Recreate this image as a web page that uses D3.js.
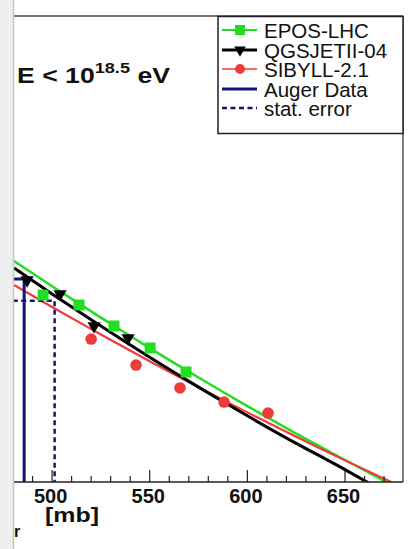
<!DOCTYPE html>
<html>
<head>
<meta charset="utf-8">
<script src="https://cdn.jsdelivr.net/npm/d3@7"></script>
<style>
  html, body { margin: 0; padding: 0; background: #fff; }
  svg { display: block; }
  text { font-family: "Liberation Sans", Arial, Helvetica, sans-serif; }
</style>
</head>
<body>
<svg id="chart" width="415" height="549"></svg>
<script>
// Cross section axis [mb] and the generic observable on the vertical axis
const xDomain = [480.5, 679.7];
const yDomain = [30, 80];

// Model calibration curves: sigma [mb] -> observable
const curveSigma = [480.5, 500, 525, 550, 575, 600, 625, 650, 690];
const eposCurve  = [53.71, 51.01, 47.64, 44.37, 41.21, 38.15, 35.20, 32.36, 27.9];
const qgsjCurve  = [52.96, 50.18, 46.73, 43.38, 40.18, 37.10, 34.15, 31.33, 26.6];
const sibyCurve  = [51.14, 48.78, 45.83, 42.95, 40.17, 37.47, 34.85, 32.32, 28.4];

// Simulated points for each model
const eposSigma = [495.4, 513.8, 531.7, 550.2, 568.6];
const eposValue = [50.06, 48.99, 46.74, 44.38, 41.80];
const qgsjSigma = [487.2, 504.1, 521.5, 538.9];
const qgsjValue = [51.67, 50.17, 46.74, 45.45];
const sibySigma = [520.0, 543.0, 565.5, 588.1, 610.6];
const sibyValue = [45.34, 42.55, 40.09, 38.58, 37.40];

// Auger measurement and its statistical band
const augerSigma = 485.7, augerValue = 51.78;
const statSigma  = [470.1, 501.3];
const statValue  = [54.11, 49.45];

const majorTicks = [500, 550, 600, 650];
const minorTicks = d3.range(490, 680, 10).filter(v => v % 50 !== 0);

const legendLabels = ["EPOS-LHC", "QGSJETII-04", "SIBYLL-2.1", "Auger Data", "stat. error"];

const C = { epos: "#22dd22", qgsj: "#000000", siby: "#ee3b3b", auger: "#141478" };

const svg = d3.select("#chart");
const L = 14, R = 403, T = 16, B = 482;
const x = d3.scaleLinear().domain(xDomain).range([L, R]);
const y = d3.scaleLinear().domain(yDomain).range([B, T]);

svg.append("defs").append("clipPath").attr("id", "plotClip")
  .append("rect").attr("x", L).attr("y", T).attr("width", R - L).attr("height", B - T);

// frame
svg.append("line").attr("x1", L).attr("x2", R).attr("y1", T).attr("y2", T)
  .attr("stroke", "#444").attr("stroke-width", 1.5);
svg.append("line").attr("x1", R).attr("x2", R).attr("y1", T).attr("y2", B)
  .attr("stroke", "#555").attr("stroke-width", 1.5);

const plot = svg.append("g").attr("clip-path", "url(#plotClip)");

const line = d3.line().x(d => x(d[0])).y(d => y(d[1])).curve(d3.curveNatural);
function curve(vals, color, w) {
  plot.append("path").datum(curveSigma.map((s, i) => [s, vals[i]]))
    .attr("d", line).attr("fill", "none").attr("stroke", color).attr("stroke-width", w);
}
curve(eposCurve, C.epos, 2.5);
curve(sibyCurve, C.siby, 2.2);
curve(qgsjCurve, C.qgsj, 3);

// Auger result: horizontal at measured value, down to the axis at the cross section
plot.append("path")
  .attr("d", `M${x(xDomain[0] - 5)},${y(augerValue)}H${x(augerSigma)}V${y(yDomain[0])}`)
  .attr("fill", "none").attr("stroke", C.auger).attr("stroke-width", 3);
statSigma.forEach((s, i) => {
  plot.append("path")
    .attr("d", `M${x(xDomain[0] - 5)},${y(statValue[i])}H${x(s)}V${y(yDomain[0])}`)
    .attr("fill", "none").attr("stroke", C.auger).attr("stroke-width", 2.5)
    .attr("stroke-dasharray", "5,3.5");
});

// markers
const sq = d3.symbol().type(d3.symbolSquare).size(121);
const tri = d3.symbol().type(d3.symbolTriangle).size(75);
eposSigma.forEach((s, i) => plot.append("path").attr("d", sq)
  .attr("transform", `translate(${x(s)},${y(eposValue[i])})`).attr("fill", C.epos));
qgsjSigma.forEach((s, i) => plot.append("path").attr("d", tri)
  .attr("transform", `translate(${x(s)},${y(qgsjValue[i])}) rotate(180)`).attr("fill", C.qgsj));
sibySigma.forEach((s, i) => plot.append("circle").attr("r", 5.8)
  .attr("cx", x(s)).attr("cy", y(sibyValue[i])).attr("fill", C.siby));

// x axis
const ax = svg.append("g").attr("transform", `translate(0,${B})`);
ax.append("line").attr("x1", L).attr("x2", R).attr("stroke", "#222").attr("stroke-width", 1.5);
ax.selectAll(".minor").data(minorTicks).join("line")
  .attr("x1", d => x(d)).attr("x2", d => x(d)).attr("y1", 0).attr("y2", -6)
  .attr("stroke", "#222").attr("stroke-width", 1.2);
ax.selectAll(".major").data(majorTicks).join("line")
  .attr("x1", d => x(d)).attr("x2", d => x(d)).attr("y1", 0).attr("y2", -12)
  .attr("stroke", "#222").attr("stroke-width", 1.2);
ax.selectAll(".lbl").data(majorTicks).join("text")
  .attr("x", d => x(d) - 1.5).attr("y", 21)
  .attr("text-anchor", "middle").attr("font-weight", "bold").attr("font-size", 20)
  .attr("fill", "#111")
  .text(d => d);

// axis title: only the tail of the subscript lies right of the margin
svg.append("text").attr("x", 14).attr("y", 537)
  .attr("font-weight", "bold").attr("font-size", 16).attr("fill", "#111").text("r");
svg.append("text").attr("x", 45).attr("y", 522)
  .attr("font-weight", "bold").attr("font-size", 21).attr("fill", "#111")
  .attr("textLength", 54).attr("lengthAdjust", "spacingAndGlyphs")
  .text("[mb]");

// energy range label
const eLab = svg.append("text").attr("x", 17).attr("y", 83)
  .attr("font-weight", "bold").attr("font-size", 22).attr("fill", "#111")
  .attr("textLength", 153).attr("lengthAdjust", "spacingAndGlyphs");
eLab.append("tspan").text("E < 10");
eLab.append("tspan").attr("dy", -10).attr("font-size", 15).text("18.5");
eLab.append("tspan").attr("dy", 10).text(" eV");

// legend
const lg = svg.append("g");
lg.append("rect").attr("x", 218).attr("y", 16.5).attr("width", 185).attr("height", 117)
  .attr("fill", "#fff").attr("stroke", "#222").attr("stroke-width", 1.5);
const rowY = [30, 50, 69, 89, 108];
const sx0 = 222, sx1 = 257, sxm = 240;
function lgLine(i, color, w, dash) {
  const l = lg.append("line").attr("x1", sx0).attr("x2", sx1).attr("y1", rowY[i]).attr("y2", rowY[i])
    .attr("stroke", color).attr("stroke-width", w);
  if (dash) l.attr("stroke-dasharray", dash);
}
lgLine(0, C.epos, 2);
lg.append("path").attr("d", d3.symbol().type(d3.symbolSquare).size(100))
  .attr("transform", `translate(${sxm},${rowY[0]})`).attr("fill", C.epos);
lgLine(1, C.qgsj, 3);
lg.append("path").attr("d", d3.symbol().type(d3.symbolTriangle).size(60))
  .attr("transform", `translate(${sxm},${rowY[1]}) rotate(180)`).attr("fill", C.qgsj);
lgLine(2, C.siby, 1.5);
lg.append("circle").attr("cx", sxm).attr("cy", rowY[2]).attr("r", 5).attr("fill", C.siby);
lgLine(3, C.auger, 3);
lgLine(4, C.auger, 2.5, "5,3.5");
lg.selectAll(".lt").data(legendLabels).join("text")
  .attr("x", 264).attr("y", (d, i) => rowY[i] + 7.5)
  .attr("font-size", 20.5).attr("fill", "#111").text(d => d);

// left margin strip
svg.append("rect").attr("x", 0).attr("y", 0).attr("width", 13).attr("height", 549).attr("fill", "#efefef");
svg.append("line").attr("x1", 13.5).attr("x2", 13.5).attr("y1", 0).attr("y2", 549)
  .attr("stroke", "#c4c4c4").attr("stroke-width", 1.5);
</script>
</body>
</html>
